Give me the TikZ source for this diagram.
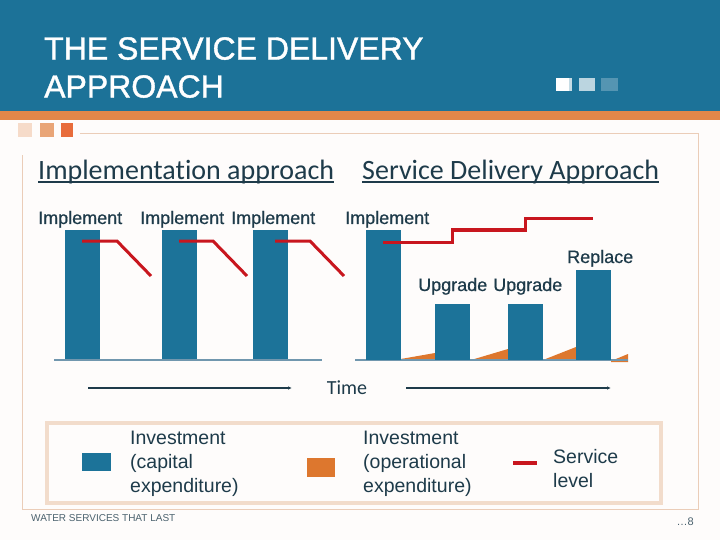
\documentclass[tikz,border=0pt]{standalone}
\usepackage{fontspec}
\setmainfont{Liberation Sans}
\newfontfamily\calibri[Ligatures=NoCommon]{Carlito}
\usetikzlibrary{arrows.meta,positioning}
\definecolor{headblue}{HTML}{1C7298}
\definecolor{capblue}{HTML}{1C7399}
\definecolor{opsorange}{HTML}{DD772E}
\definecolor{servred}{HTML}{C8161E}
\definecolor{inktext}{HTML}{1E3B4A}
\definecolor{framepeach}{HTML}{EBCDB8}
\definecolor{legendpeach}{HTML}{F2DCCB}
\definecolor{bandorange}{HTML}{E2874A}
\definecolor{axisgrey}{HTML}{7197AE}
\definecolor{pagebg}{HTML}{FEFCFB}

\begin{document}
\begin{tikzpicture}[x=1pt, y=-1pt,
  capbar/.style={fill=capblue, minimum width=35pt, inner sep=0pt, anchor=south west},
  opswedge/.style={fill=opsorange},
  service/.style={servred, line width=3pt},
  axis/.style={axisgrey, line width=1.2pt},
  barlabel/.style={anchor=base west, inner sep=0pt, text=inktext, font=\addfontfeature{FakeBold=0.6}\fontsize{18}{22}\selectfont},
  heading/.style={anchor=base west, inner sep=0pt, text=inktext, font=\calibri\fontsize{28}{32}\selectfont},
  headline/.style={inktext, line width=2pt},
  legendtext/.style={anchor=north west, inner sep=0pt, align=left, text=inktext, font=\fontsize{19.5}{24}\selectfont},
  timearr/.style={-{Latex[length=4pt, width=3.5pt]}, line width=1.6pt, inktext}
]
  \useasboundingbox (0,0) rectangle (720,540);
  \fill[pagebg] (0,0) rectangle (720,540);

  % header band
  \fill[headblue] (0,0) rectangle (720,111);
  \fill[bandorange] (0,111) rectangle (720,120);
  \node[anchor=north west, inner sep=0pt, align=left, text=white, font=\addfontfeature{FakeBold=1.2}\fontsize{32}{38}\selectfont] (title) at (44,37) {THE SERVICE DELIVERY\\APPROACH};
  \fill[white] (556,78) rectangle (569,91);
  \fill[headblue!25] (569,78) rectangle (572,91);
  \fill[headblue!30] (579,78) rectangle (595,91);
  \fill[headblue!75!white] (601,78) rectangle (618,91);

  % small squares and frame
  \fill[bandorange!30] (18,123) rectangle (32,137);
  \fill[bandorange!75] (40,123) rectangle (54,137);
  \fill[bandorange!80!red] (61,123) rectangle (73,137);
  \draw[framepeach] (80,133) -- (698,133) -- (698,509) -- (22,509) -- (22,155);

  % headings
  \node[heading] (implhead) at (38,180) {Implementation approach};
  \node[heading] (sdahead) at (362,180) {Service Delivery Approach};
  \draw[headline] ([yshift=-2.5pt]implhead.base west) -- ([yshift=-2.5pt]implhead.base east);
  \draw[headline] ([yshift=-2.5pt]sdahead.base west) -- ([yshift=-2.5pt]sdahead.base east);

  % implementation approach
  \node[barlabel] (lab1) at (38,224) {Implement};
  \node[barlabel] (lab2) at (140,224) {Implement};
  \node[barlabel] (lab3) at (231,224) {Implement};
  \node[capbar, minimum height=130pt] (bar1) at (65,360) {};
  \node[capbar, minimum height=130pt] (bar2) at (162,360) {};
  \node[capbar, minimum height=130pt] (bar3) at (253,360) {};
  \draw[axis] (54,360) -- (322,360);
  \draw[service] (82,241) -- (117,241) -- (151,276);
  \draw[service] (179,241) -- (213,241) -- (247,276);
  \draw[service] (275,241) -- (310,241) -- (344,276);

  % service delivery approach
  \fill[opswedge] (395,360) -- (435,353) -- (435,360) -- cycle;
  \fill[opswedge] (471,360) -- (508,349) -- (508,360) -- cycle;
  \fill[opswedge] (543,360) -- (576,347) -- (576,360) -- cycle;
  \fill[opswedge] (611,361) -- (628,354) -- (628,362) -- (611,362) -- cycle;
  \draw[axis] (355,360) -- (628,360);
  \node[barlabel] (lab4) at (345,224) {Implement};
  \node[barlabel] (lab5) at (418,291) {Upgrade};
  \node[barlabel] (lab6) at (493,291) {Upgrade};
  \node[barlabel] (lab7) at (567,263) {Replace};
  \node[capbar, minimum height=130pt] (bar4) at (366,360) {};
  \node[capbar, minimum height=56pt] (bar5) at (435,360) {};
  \node[capbar, minimum height=56pt] (bar6) at (508,360) {};
  \node[capbar, minimum height=90pt] (bar7) at (576,360) {};
  \draw[service] (383,242) -- (452,242) -- (452,230) -- (525,230) -- (525,219) -- (593,219);

  % time axis
  \node[text=inktext, font=\calibri\fontsize{20}{24}\selectfont] (time) at (347,388) {Time};
  \coordinate (tl0) at (88,388);
  \coordinate (tl1) at (292,388);
  \coordinate (tr0) at (406,388);
  \coordinate (tr1) at (611,388);
  \draw[timearr] (tl0) -- (tl1);
  \draw[timearr] (tr0) -- (tr1);

  % legend
  \draw[legendpeach, line width=4pt] (47,423) rectangle (661,503);
  \fill[capblue] (82,453) rectangle (111,471);
  \node[legendtext] (capex) at (130,431) {Investment\\(capital\\expenditure)};
  \fill[opsorange] (307,458) rectangle (335,477);
  \node[legendtext] (opex) at (363,431) {Investment\\(operational\\expenditure)};
  \draw[servred, line width=4pt] (513,463) -- (537,463);
  \node[legendtext] (servlev) at (553,449) {Service\\level};

  % footer
  \node[anchor=west, inner sep=0pt, text=inktext!80, font=\fontsize{10}{12}\selectfont] (foot) at (31,518) {WATER SERVICES THAT LAST};
  \node[anchor=east, inner sep=0pt, text=inktext!80, font=\fontsize{11}{13}\selectfont] (pagenum) at (694,522) {…8};
\end{tikzpicture}
\end{document}
